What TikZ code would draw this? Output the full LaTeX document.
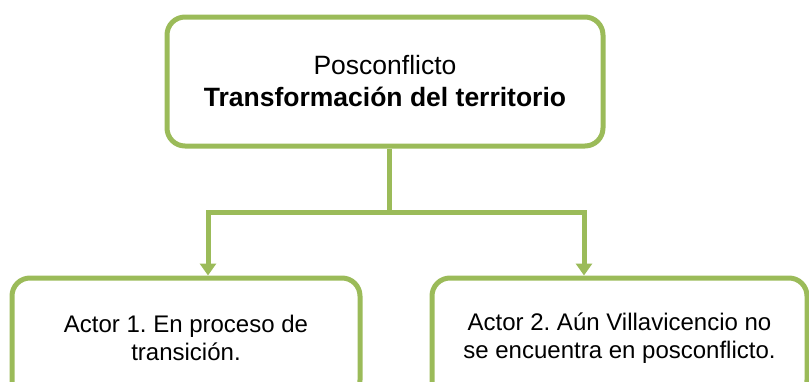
\documentclass[tikz,border=0pt]{standalone}
\usepackage{fontspec}
\setmainfont{Liberation Sans}
\usetikzlibrary{arrows.meta}
\definecolor{leaf}{RGB}{155,187,89}
\frenchspacing

\begin{document}
\begin{tikzpicture}[x=1pt, y=-1pt,
  box/.style={draw=leaf, line width=5pt, rounded corners=18pt, align=center, inner sep=0pt},
  link/.style={draw=leaf, line width=5pt},
  tip/.style={-{Triangle[width=16pt,length=12pt]}}]

\useasboundingbox (0,0) rectangle (809,381);

\node[box, minimum width=436pt, minimum height=129pt, font=\fontsize{26.5}{32}\selectfont] (top) at (385,81.5)
  {Posconflicto\\\textbf{Transformación del territorio}};

\node[box, minimum width=348pt, minimum height=120pt, font=\fontsize{24}{27.5}\selectfont] (actorA) at (186,338)
  {Actor 1. En proceso de\\transición.};
\node[box, minimum width=375pt, minimum height=120pt, font=\fontsize{24}{27.5}\selectfont] (actorB) at (619.5,338)
  {Actor 2. Aún Villavicencio no\\se encuentra en posconflicto.};

\coordinate (split) at (389,212);
\coordinate (dropA) at (208,212);
\coordinate (dropB) at (584,212);

\draw[link] (split |- top.south) -- (split);
\draw[link, tip] (split) -- (dropA) -- (dropA |- actorA.north);
\draw[link, tip] (split) -- (dropB) -- (dropB |- actorB.north);

\end{tikzpicture}
\end{document}
